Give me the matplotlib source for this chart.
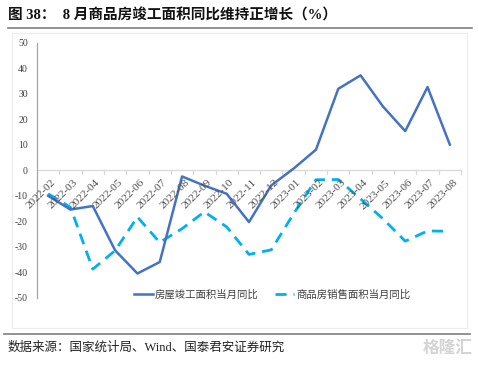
import matplotlib
matplotlib.use("Agg")
import matplotlib.pyplot as plt
from matplotlib.patches import Rectangle
from matplotlib.lines import Line2D

months = ["2022-02", "2022-03", "2022-04", "2022-05", "2022-06", "2022-07", "2022-08",
          "2022-09", "2022-10", "2022-11", "2022-12", "2023-01", "2023-02", "2023-03",
          "2023-04", "2023-05", "2023-06", "2023-07", "2023-08"]
completion_yoy = [-10, -15.4, -14, -31.4, -40.5, -36, -2.4, -6, -9.2, -20.3, -5.9,
                  0.7, 8.1, 32, 37.3, 25.1, 15.4, 32.7, 10.1]
sales_yoy = [-9.2, -14.5, -38.8, -31.5, -18.3, -28.3, -22.9, -16.3, -22.2, -33, -31.2,
             -17, -3.7, -3.6, -11.2, -19, -27.8, -23.8, -23.9]
yticks = [50, 40, 30, 20, 10, 0, -10, -20, -30, -40, -50]
series_names = ["房屋竣工面积当月同比", "商品房销售面积当月同比"]
title = "图 38：  8 月商品房竣工面积同比维持正增长（%）"
source = "数据来源：国家统计局、Wind、国泰君安证券研究"

FAM = ["Liberation Serif", "Noto Sans CJK SC", "DejaVu Sans"]
plt.rcParams['font.family'] = FAM

W, H = 479, 366
fig = plt.figure(figsize=(W / 100, H / 100), dpi=100)

def fx(px):
    return px / W

def fy(py):
    return 1 - py / H

# faint chart frame
fig.patches.append(Rectangle((fx(12), fy(328)), fx(467) - fx(12), fy(33) - fy(328),
                             transform=fig.transFigure, fill=False, edgecolor="#ececec", lw=0.8))
# title rule and footer rule
fig.add_artist(Line2D([fx(8), fx(472)], [fy(28), fy(28)], color="#7f7f7f", lw=1.2))
fig.add_artist(Line2D([fx(4), fx(470)], [fy(334), fy(334)], color="#7f7f7f", lw=1.2))

fig.text(fx(8), fy(15), title, fontsize=10.5, fontweight="bold", ha="left", va="center",
         color="#111111", family=FAM)
fig.text(fx(8), fy(348), source, fontsize=9, ha="left", va="center", color="#222222",
         family=FAM)
fig.text(fx(473), fy(348), "格隆汇", fontsize=12, ha="right", va="center",
         color="#d4d4d4", family=["Noto Sans CJK SC"], fontweight="bold")

ax = fig.add_axes([fx(37), fy(297.7), fx(461) - fx(37), fy(43) - fy(297.7)])
x = list(range(len(months)))
ax.plot(x, completion_yoy, color="#4472C4", lw=1.8, label=series_names[0], zorder=3)
ax.plot(x, sales_yoy, color="#00B0F0", lw=2.0, dashes=(4, 2.5), label=series_names[1],
        zorder=2)

ax.set_xlim(-0.5, len(months) - 0.5)
ax.set_ylim(-50, 50)
for s in ["top", "right", "bottom"]:
    ax.spines[s].set_visible(False)
ax.spines["left"].set_color("#a6a6a6")
ax.spines["left"].set_linewidth(0.9)
ax.axhline(0, color="#d9d9d9", lw=0.9, zorder=1)

ax.set_yticks(yticks)
ax.set_yticklabels([str(v) for v in yticks], fontsize=7, color="#404040")
ax.tick_params(axis="y", length=0, pad=6.5)

ax.set_xticks(x)
ax.tick_params(axis="x", which="major", length=0)
ax.set_xticklabels([])
for i, m in enumerate(months):
    ax.text(i + 0.12, -3.0, m, rotation=45, ha="right", va="top", rotation_mode="anchor",
            fontsize=8.2, color="#505050", family=FAM)

for b in [i + 0.5 for i in x]:
    ax.plot([b, b], [0, -1.5], color="#d9d9d9", lw=0.9, zorder=1, clip_on=False)

leg = ax.legend(loc="lower center", bbox_to_anchor=(0.555, -0.045), ncol=2, frameon=False,
                prop={"family": FAM, "size": 7.5}, handlelength=1.8, handletextpad=0.2,
                columnspacing=1.6, labelcolor="#404040")

fig.savefig("out.png", dpi=100)
